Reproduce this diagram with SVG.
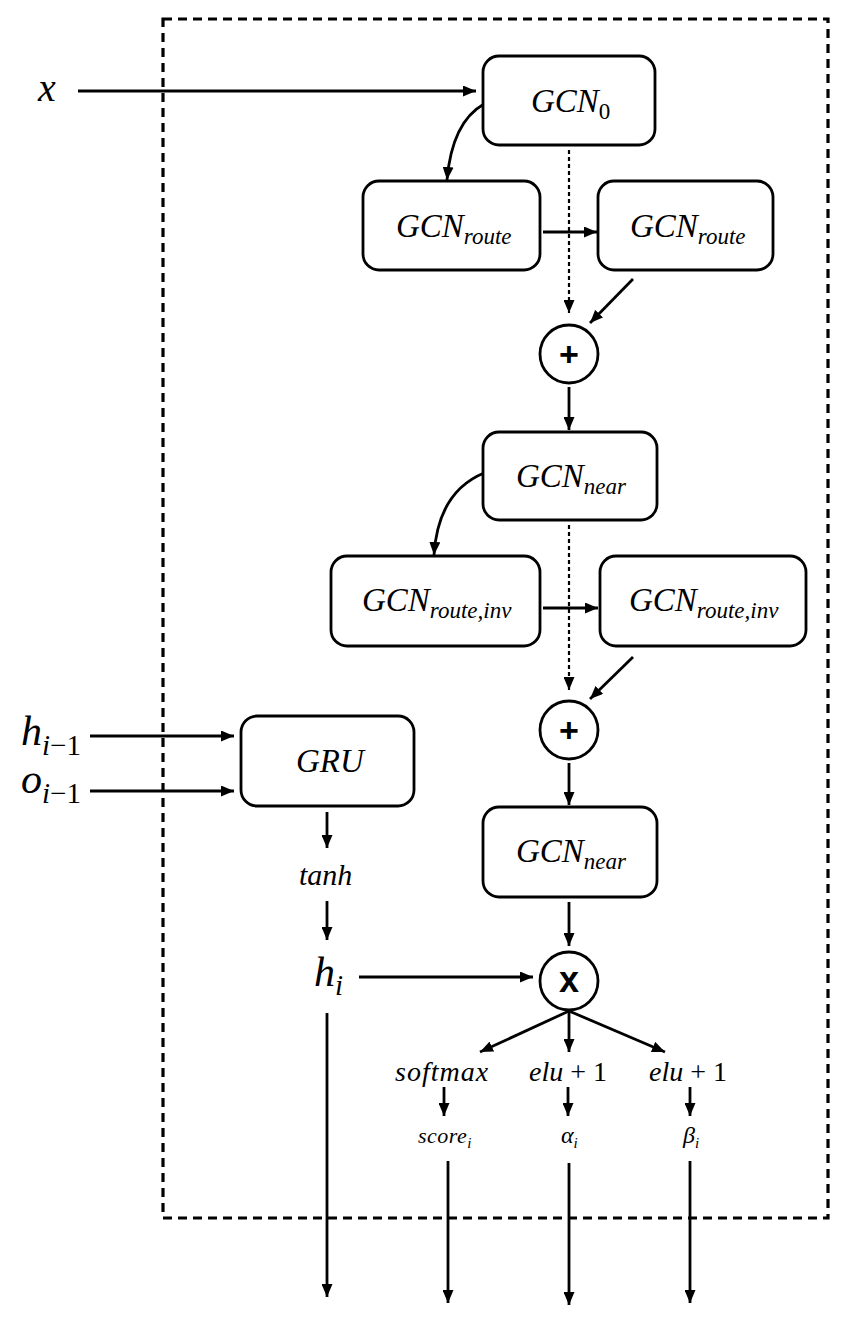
<svg xmlns="http://www.w3.org/2000/svg" width="846" height="1320" viewBox="0 0 846 1320" font-family="Liberation Serif, serif">
<defs>
<marker id="ah" viewBox="0 0 13 11" markerUnits="userSpaceOnUse" markerWidth="13" markerHeight="11" refX="13" refY="5.5" orient="auto">
<path d="M0,0 L13,5.5 L0,11 z" fill="#000"/>
</marker>
</defs>
<rect x="163" y="19" width="665" height="1199" fill="none" stroke="#000" stroke-width="3.2" stroke-dasharray="9 6"/>
<g id="connectors" fill="none" stroke="#000" stroke-width="2.8">
<path d="M78 91 H476" marker-end="url(#ah)"/>
<path d="M484 104 Q452 122 447 180" marker-end="url(#ah)"/>
<path d="M569 150 V313" stroke-width="2.2" stroke-dasharray="4 3" marker-end="url(#ah)"/>
<path d="M543 232 H597" marker-end="url(#ah)"/>
<path d="M633 279 L590 323" marker-end="url(#ah)"/>
<path d="M569 387 V430" marker-end="url(#ah)"/>
<path d="M484 473 Q438 492 434 555" marker-end="url(#ah)"/>
<path d="M569 525 V690" stroke-width="2.2" stroke-dasharray="4 3" marker-end="url(#ah)"/>
<path d="M543 608 H598" marker-end="url(#ah)"/>
<path d="M633 657 L590 699" marker-end="url(#ah)"/>
<path d="M569 763 V805" marker-end="url(#ah)"/>
<path d="M569 902 V946" marker-end="url(#ah)"/>
<path d="M90 736 H234" marker-end="url(#ah)"/>
<path d="M90 791 H234" marker-end="url(#ah)"/>
<path d="M327 812 V848" marker-end="url(#ah)"/>
<path d="M327 901 V940" marker-end="url(#ah)"/>
<path d="M359 977 H533" marker-end="url(#ah)"/>
<path d="M327 1013 V1297" marker-end="url(#ah)"/>
<path d="M569 1011 L480 1052" marker-end="url(#ah)"/>
<path d="M569 1011 V1052" marker-end="url(#ah)"/>
<path d="M569 1011 L665 1052" marker-end="url(#ah)"/>
<path d="M444 1087 V1116" marker-end="url(#ah)"/>
<path d="M568 1087 V1116" marker-end="url(#ah)"/>
<path d="M690 1087 V1116" marker-end="url(#ah)"/>
<path d="M448 1161 V1303" marker-end="url(#ah)"/>
<path d="M569 1163 V1305" marker-end="url(#ah)"/>
<path d="M690 1161 V1303" marker-end="url(#ah)"/>
</g>
<g id="label-x"><text x="38" y="101" font-size="40" font-style="italic">x</text></g>
<g id="gcn0">
<rect x="483" y="56" width="172" height="89" rx="16" fill="#fff" stroke="#000" stroke-width="2.8"/>
<text x="531" y="112" font-size="33" font-style="italic">GCN<tspan font-size="23" dy="7" font-style="normal">0</tspan></text>
</g>
<g id="gcn-route-1">
<rect x="363" y="181" width="177" height="89" rx="16" fill="#fff" stroke="#000" stroke-width="2.8"/>
<text x="396" y="237" font-size="33" font-style="italic">GCN<tspan font-size="23" dy="7">route</tspan></text>
</g>
<g id="gcn-route-2">
<rect x="598" y="181" width="175" height="89" rx="16" fill="#fff" stroke="#000" stroke-width="2.8"/>
<text x="630" y="237" font-size="33" font-style="italic">GCN<tspan font-size="23" dy="7">route</tspan></text>
</g>
<g id="plus-1">
<circle cx="569" cy="354" r="29" fill="#fff" stroke="#000" stroke-width="2.8"/>
<text x="559" y="366" font-size="34" font-family="Liberation Sans, sans-serif" font-weight="bold">+</text>
</g>
<g id="gcn-near-1">
<rect x="483" y="432" width="174" height="88" rx="16" fill="#fff" stroke="#000" stroke-width="2.8"/>
<text x="516" y="487" font-size="33" font-style="italic">GCN<tspan font-size="23" dy="7">near</tspan></text>
</g>
<g id="gcn-route-inv-1">
<rect x="331" y="556" width="209" height="90" rx="16" fill="#fff" stroke="#000" stroke-width="2.8"/>
<text x="362" y="611" font-size="33" font-style="italic">GCN<tspan font-size="23" dy="7">route,inv</tspan></text>
</g>
<g id="gcn-route-inv-2">
<rect x="600" y="556" width="206" height="90" rx="16" fill="#fff" stroke="#000" stroke-width="2.8"/>
<text x="629" y="611" font-size="33" font-style="italic">GCN<tspan font-size="23" dy="7">route,inv</tspan></text>
</g>
<g id="plus-2">
<circle cx="569" cy="730" r="29" fill="#fff" stroke="#000" stroke-width="2.8"/>
<text x="559" y="742" font-size="34" font-family="Liberation Sans, sans-serif" font-weight="bold">+</text>
</g>
<g id="gcn-near-2">
<rect x="483" y="807" width="174" height="90" rx="16" fill="#fff" stroke="#000" stroke-width="2.8"/>
<text x="516" y="862" font-size="33" font-style="italic">GCN<tspan font-size="23" dy="7">near</tspan></text>
</g>
<g id="mult">
<circle cx="569" cy="981" r="29" fill="#fff" stroke="#000" stroke-width="2.8"/>
<text x="559" y="992" font-size="36" font-family="Liberation Sans, sans-serif" font-weight="bold">x</text>
</g>
<g id="label-h-prev"><text x="21" y="745" font-size="42" font-style="italic">h<tspan font-size="29" dy="10">i</tspan><tspan font-size="29" font-style="normal">−1</tspan></text></g>
<g id="label-o-prev"><text x="21" y="793" font-size="42" font-style="italic">o<tspan font-size="29" dy="10">i</tspan><tspan font-size="29" font-style="normal">−1</tspan></text></g>
<g id="gru">
<rect x="241" y="716" width="173" height="90" rx="16" fill="#fff" stroke="#000" stroke-width="2.8"/>
<text x="296" y="772" font-size="33" font-style="italic">GRU</text>
</g>
<g id="tanh"><text x="299" y="885" font-size="30" font-style="italic">tanh</text></g>
<g id="label-hi"><text x="314" y="986" font-size="42" font-style="italic">h<tspan font-size="29" dy="9">i</tspan></text></g>
<g id="softmax"><text x="395" y="1081" font-size="28" letter-spacing="1" font-style="italic">softmax</text></g>
<g id="elu-1"><text x="529" y="1081" font-size="28" font-style="italic">elu <tspan font-style="normal">+ 1</tspan></text></g>
<g id="elu-2"><text x="649" y="1081" font-size="28" font-style="italic">elu <tspan font-style="normal">+ 1</tspan></text></g>
<g id="score"><text x="418" y="1143" font-size="22" letter-spacing="0.5" font-style="italic">score<tspan font-size="15" dy="5">i</tspan></text></g>
<g id="alpha"><text x="561" y="1143" font-size="24" font-style="italic">α<tspan font-size="15" dy="5">i</tspan></text></g>
<g id="beta"><text x="683" y="1143" font-size="24" font-style="italic">β<tspan font-size="15" dy="5">i</tspan></text></g>
</svg>
